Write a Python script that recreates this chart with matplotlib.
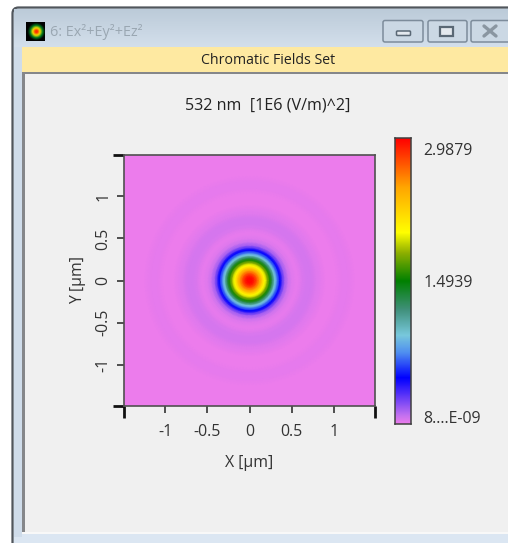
import numpy as np
import matplotlib
matplotlib.use("Agg")
import matplotlib.pyplot as plt
from matplotlib.colors import LinearSegmentedColormap
from matplotlib.patches import Rectangle, FancyBboxPatch

plt.rcParams['font.family'] = ['Open Sans', 'DejaVu Sans']

W, H = 508, 543

# field: radius [um] and Ex^2+Ey^2+Ez^2 [1E6 (V/m)^2]
radius = [0.0, 0.03, 0.06, 0.09, 0.12, 0.15, 0.18, 0.21, 0.24, 0.27, 0.30, 0.33, 0.36,
          0.39, 0.42, 0.46, 0.50, 0.54, 0.58, 0.63, 0.68, 0.73, 0.79, 0.85, 0.90,
          0.96, 1.03, 1.10, 1.17, 1.25, 1.35, 1.50, 1.70, 2.20]
field = [2.9879, 2.95, 2.85, 2.68, 2.48, 2.24, 2.00, 1.78, 1.55, 1.25, 0.93, 0.70, 0.48,
         0.29, 0.15, 0.07, 0.03, 0.012, 0.02, 0.042, 0.054, 0.05, 0.032, 0.014, 0.005,
         0.005, 0.009, 0.014, 0.013, 0.008, 0.005, 0.005, 0.005, 0.005]

title = "532 nm  [1E6 (V/m)^2]"
xlabel = "X [µm]"
ylabel = "Y [µm]"
ticks = [-1, -0.5, 0, 0.5, 1]
tick_labels = ["-1", "-0.5", "0", "0.5", "1"]
cbar_labels = ["2.9879", "1.4939", "8....E-09"]
vmax = 2.9879

cmap = LinearSegmentedColormap.from_list("chromatic", [
    (0.0, "#ec7cec"), (0.03, "#c070f0"), (0.16, "#0000ff"), (0.25, "#5090f0"),
    (0.31, "#78c8dc"), (0.40, "#40907a"), (0.50, "#008000"), (0.60, "#90b000"),
    (0.67, "#ffff00"), (0.83, "#ffa500"), (1.0, "#ff0000")])


def px_axes(fig, x0, y0, x1, y1):
    # pixel box, y counted from the top like in the reference
    return fig.add_axes([x0 / W, 1 - y1 / H, (x1 - x0) / W, (y1 - y0) / H])


fig = plt.figure(figsize=(W / 100, H / 100), dpi=100, facecolor="white")

# window around the chart
bg = fig.add_axes([0, 0, 1, 1])
bg.add_patch(FancyBboxPatch((12.5, 7.5), W, H, boxstyle="round,pad=0,rounding_size=6",
                            fc="#dbe6f2", ec="#50565c", lw=1.6, zorder=0))
bg.imshow(np.linspace(0, 1, 40).reshape(-1, 1), extent=(14, W, 47, 9), aspect="auto",
          cmap=LinearSegmentedColormap.from_list("bar", ["#bccbd9", "#d3dfeb"]), zorder=1)
bg.add_patch(Rectangle((14, 47), 8, 490, fc="#cfdcea", ec="none", zorder=1))
bg.add_patch(Rectangle((22, 47), W, 26, fc="#fee9a1", ec="none", zorder=2))
bg.add_patch(Rectangle((22, 73), W, 459, fc="#f0f0f0", ec="none", zorder=2))
bg.add_patch(Rectangle((22, 72), W, 2, fc="#85878a", ec="none", zorder=3))
bg.add_patch(Rectangle((22, 72), 3, 460, fc="#85878a", ec="none", zorder=3))
bg.add_patch(Rectangle((22, 532), W, 1.5, fc="#f8f8f8", ec="none", zorder=3))

yy, xx = np.mgrid[0:1:24j, 0:1:24j]
glow = np.clip(1.15 - 2.4 * np.hypot(xx - 0.55, yy - 0.5), 0, 1)
bg.imshow(glow, extent=(26, 45, 41, 22), aspect="auto", zorder=3,
          cmap=LinearSegmentedColormap.from_list("ic", ["black", "#007a20", "#f0e000", "#ff3000"]))
bg.text(50, 32, "6: Ex²+Ey²+Ez²", fontsize=10.4, color="#9aa7b2", va="center", zorder=4)
for x0, x1 in [(383, 423), (428, 467), (471, 515)]:
    bg.add_patch(FancyBboxPatch((x0, 20.5), x1 - x0, 21.5, boxstyle="round,pad=0,rounding_size=2",
                                fc="#cbd8e4", ec="#7d8c9b", lw=1.1, zorder=3))
bg.add_patch(FancyBboxPatch((396.5, 31), 14, 4.5, boxstyle="round,pad=0,rounding_size=1",
                            fc="#e4e9ee", ec="#5a6875", lw=1.1, zorder=4))
bg.add_patch(Rectangle((440, 26.5), 13, 9, fc="#e4e9ee", ec="#5a6875", lw=1.6, zorder=4))
for x0, x1 in [(484, 496), (496, 484)]:
    bg.plot([x0, x1], [26, 36], color="#8a96a1", lw=2.4, zorder=4, solid_capstyle="round")
bg.text(268, 60, "Chromatic Fields Set", fontsize=10.2, color="#222222", ha="center", va="center", zorder=4)
bg.text(268, 105, title, fontsize=11.6, color="#222222", ha="center", va="center", zorder=4)

# main map, rings drawn in x/y
ax = px_axes(fig, 124, 155, 375, 406)
theta = np.linspace(0, 2 * np.pi, 181)
rr, tt = np.meshgrid(radius, theta)
cc = np.tile(field, (len(theta), 1))
ax.pcolormesh(rr * np.cos(tt), rr * np.sin(tt), cc, cmap=cmap, vmin=0, vmax=vmax,
              shading="gouraud", rasterized=True)
ax.set_xlim(-1.49, 1.49)
ax.set_ylim(-1.49, 1.49)
ax.set_xticks(ticks, tick_labels)
ax.set_yticks(ticks, tick_labels)
ax.tick_params(axis="x", length=5, width=1.1, color="#222222", labelsize=11.4,
               labelcolor="#333333", pad=8)
ax.tick_params(axis="y", length=5, width=1.1, color="#222222", labelsize=11.4,
               labelcolor="#333333", pad=4)
for lab in ax.get_yticklabels():
    lab.set_rotation(90)
    lab.set_va("center")
ax.set_xlabel(xlabel, fontsize=11.4, color="#333333", labelpad=11)
ax.set_ylabel(ylabel, fontsize=11.4, color="#333333", labelpad=7)
for s in ax.spines.values():
    s.set_color("#505050")
    s.set_linewidth(1.2)

# heavier corner ticks
for x0, y0, x1, y1 in [(113, 155, 124, 155), (113, 406, 124, 406), (124, 406, 124, 418),
                       (375, 406, 375, 418)]:
    bg.plot([x0, x1], [y0, y1], color="#111111", lw=2, zorder=5, solid_capstyle="butt")
bg.set_xlim(0, W)
bg.set_ylim(H, 0)
bg.axis("off")

# colour bar
cax = px_axes(fig, 395, 138, 411, 424)
cax.imshow(np.linspace(1, 0, 256).reshape(-1, 1), cmap=cmap, vmin=0, vmax=1, aspect="auto",
           extent=(0, 1, 0, vmax))
cax.set_xticks([])
cax.yaxis.tick_right()
cax.set_yticks([vmax * 0.96, vmax * 0.5, vmax * 0.025], cbar_labels)
cax.tick_params(axis="y", length=0, labelsize=11.4, labelcolor="#333333", pad=9)
for s in cax.spines.values():
    s.set_color("#404040")
    s.set_linewidth(1.1)

fig.savefig("out.png", dpi=100)
